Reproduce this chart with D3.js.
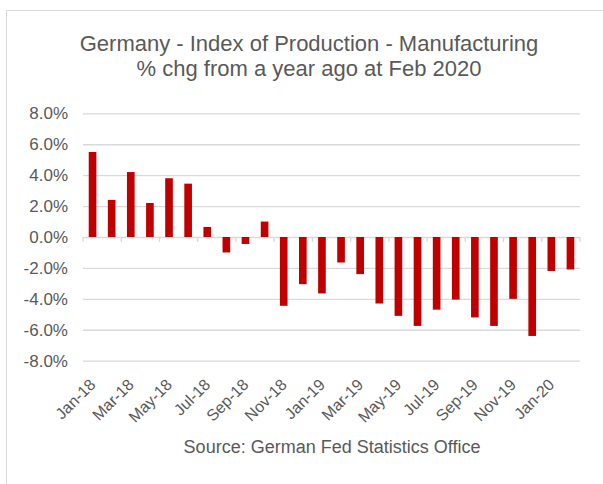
<!DOCTYPE html>
<html>
<head>
<meta charset="utf-8">
<script src="https://cdn.jsdelivr.net/npm/d3@7"></script>
<style>
  html, body { margin: 0; padding: 0; background: #ffffff; }
  svg { display: block; font-family: "Liberation Sans", Arial, Helvetica, sans-serif; }
</style>
</head>
<body>
<svg id="chart" width="603" height="484"></svg>
<script>
// Monthly categories, Jan 2018 to Feb 2020
const months = [
  "Jan-18","Feb-18","Mar-18","Apr-18","May-18","Jun-18","Jul-18","Aug-18","Sep-18","Oct-18","Nov-18","Dec-18",
  "Jan-19","Feb-19","Mar-19","Apr-19","May-19","Jun-19","Jul-19","Aug-19","Sep-19","Oct-19","Nov-19","Dec-19",
  "Jan-20","Feb-20"
];
// Year-on-year % change in manufacturing production
const pctChange = [
  5.5, 2.4, 4.2, 2.2, 3.8, 3.45, 0.65, -1.0, -0.45, 1.0, -4.45, -3.05,
  -3.65, -1.65, -2.4, -4.3, -5.1, -5.75, -4.7, -4.05, -5.2, -5.75, -4.0, -6.4,
  -2.2, -2.1
];
const yTicks = [-8, -6, -4, -2, 0, 2, 4, 6, 8];
const titleLines = ["Germany - Index of Production - Manufacturing", "% chg from a year ago at Feb 2020"];
const sourceText = "Source: German Fed Statistics Office";

const svg = d3.select("#chart");
const textColor = "#595959";
const gridColor = "#d9d9d9";
const barColor = "#c00000";

// outer chart frame
svg.append("rect")
  .attr("x", 6.5).attr("y", 10.5)
  .attr("width", 700).attr("height", 600)
  .attr("fill", "#ffffff")
  .attr("stroke", gridColor).attr("stroke-width", 1);

const plot = { left: 83, right: 580, top: 113.3, bottom: 360.7 };

const x = d3.scaleBand()
  .domain(months)
  .range([plot.left, plot.right])
  .paddingInner(0.6)
  .paddingOuter(0.3);

const y = d3.scaleLinear()
  .domain([-8, 8])
  .range([plot.bottom, plot.top]);

// title
svg.append("g")
  .selectAll("text")
  .data(titleLines)
  .join("text")
  .attr("x", 309)
  .attr("y", (d, i) => 51 + i * 25)
  .attr("text-anchor", "middle")
  .attr("fill", textColor)
  .attr("font-size", 22)
  .text(d => d);

// y axis with gridlines
const yAxis = svg.append("g")
  .attr("transform", `translate(${plot.left},0)`)
  .call(d3.axisLeft(y)
    .tickValues(yTicks)
    .tickSize(-(plot.right - plot.left))
    .tickPadding(15)
    .tickFormat(d => d.toFixed(1) + "%"));
yAxis.select(".domain").remove();
yAxis.selectAll(".tick line")
  .attr("stroke", gridColor)
  .attr("stroke-width", 1.3);
yAxis.selectAll(".tick text")
  .attr("fill", textColor)
  .attr("font-size", 17)
  .attr("font-family", "Liberation Sans, Arial, sans-serif");

// bars
svg.append("g")
  .selectAll("rect")
  .data(months.map((m, i) => ({ m, v: pctChange[i] })))
  .join("rect")
  .attr("x", d => x(d.m))
  .attr("width", x.bandwidth())
  .attr("y", d => y(Math.max(0, d.v)))
  .attr("height", d => Math.abs(y(d.v) - y(0)))
  .attr("fill", barColor);

// category tick marks on the zero line, every second month boundary
const step = x.step();
const gap = step - x.bandwidth();
const boundaries = months
  .map((m, i) => i)
  .filter(i => i % 2 === 0)
  .map(i => x(months[i]) - gap / 2)
  .concat([x(months[months.length - 1]) + x.bandwidth() + gap / 2]);
svg.append("g")
  .selectAll("line")
  .data(boundaries)
  .join("line")
  .attr("x1", d => d).attr("x2", d => d)
  .attr("y1", y(0)).attr("y2", y(0) + 5)
  .attr("stroke", gridColor)
  .attr("stroke-width", 1.3);

// x axis labels, every second month, rotated
const xAxis = svg.append("g")
  .attr("transform", `translate(0,${plot.bottom})`)
  .call(d3.axisBottom(x)
    .tickValues(months.filter((m, i) => i % 2 === 0))
    .tickSize(0)
    .tickPadding(0));
xAxis.select(".domain").remove();
xAxis.selectAll(".tick text")
  .attr("fill", textColor)
  .attr("font-size", 16)
  .attr("font-family", "Liberation Sans, Arial, sans-serif")
  .attr("text-anchor", "end")
  .attr("dy", 0)
  .attr("y", 0)
  .attr("transform", "translate(4,25) rotate(-45)");

// source note
svg.append("text")
  .attr("x", 332)
  .attr("y", 453)
  .attr("text-anchor", "middle")
  .attr("fill", textColor)
  .attr("font-size", 18)
  .text(sourceText);
</script>
</body>
</html>
